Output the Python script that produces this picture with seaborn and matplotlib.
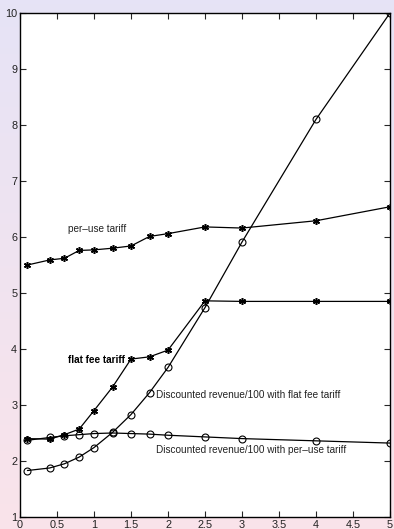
import numpy as np
import pandas as pd
import matplotlib
matplotlib.use("Agg")
import matplotlib.pyplot as plt
import seaborn as sns

# =========================
# DATA
# =========================

x_vals = [0.1, 0.4, 0.6, 0.8, 1.0, 1.25, 1.5, 1.75, 2.0, 2.5, 3.0, 4.0, 5.0]

per_use_tariff = [5.50, 5.59, 5.62, 5.76, 5.77, 5.80, 5.84, 6.01, 6.06, 6.18, 6.16, 6.29, 6.54]
flat_fee_tariff = [2.40, 2.39, 2.47, 2.57, 2.90, 3.32, 3.82, 3.86, 3.98, 4.86, 4.85, 4.85, 4.85]
disc_flat_fee = [1.83, 1.875, 1.95, 2.07, 2.24, 2.51, 2.83, 3.22, 3.67, 4.74, 5.91, 8.10, 10.0]
disc_per_use = [2.37, 2.42, 2.45, 2.47, 2.49, 2.50, 2.49, 2.48, 2.46, 2.43, 2.40, 2.36, 2.32]

x_ticks = [0, 0.5, 1, 1.5, 2, 2.5, 3, 3.5, 4, 4.5, 5]
x_tick_labels = ["0", "0.5", "1", "1.5", "2", "2.5", "3", "3.5", "4", "4.5", "5"]
y_ticks = [1, 2, 3, 4, 5, 6, 7, 8, 9, 10]

df = pd.DataFrame({
    "x": x_vals,
    "per_use": per_use_tariff,
    "flat_fee": flat_fee_tariff,
    "disc_flat": disc_flat_fee,
    "disc_per_use": disc_per_use,
})

# =========================
# FIGURE
# =========================

sns.set_style("white")
plt.rcParams['font.family'] = ['Liberation Sans', 'DejaVu Sans']

fig = plt.figure(figsize=(3.94, 5.29), dpi=100)

# background gradient (lavender top -> pink bottom)
bg = fig.add_axes([0, 0, 1, 1], zorder=-10)
top_col = np.array([0.902, 0.894, 0.965])
bot_col = np.array([0.980, 0.894, 0.918])
t = np.linspace(0, 1, 256)[:, None]
grad = (1 - t) * top_col + t * bot_col
bg.imshow(grad[:, None, :], aspect="auto", extent=[0, 1, 0, 1])
bg.axis("off")

ax = fig.add_axes([0.0508, 0.0227, 0.9390, 0.9527])
ax.set_facecolor("white")

asterisk = (6, 2, 0)

sns.lineplot(data=df, x="x", y="per_use", ax=ax, color="black", linewidth=0.9,
             marker=asterisk, markersize=5, markeredgewidth=1.1, markeredgecolor="black")
sns.lineplot(data=df, x="x", y="flat_fee", ax=ax, color="black", linewidth=0.9,
             marker=asterisk, markersize=5, markeredgewidth=1.1, markeredgecolor="black")
sns.lineplot(data=df, x="x", y="disc_flat", ax=ax, color="black", linewidth=0.9,
             marker="o", markersize=5, markerfacecolor="none", markeredgewidth=0.8,
             markeredgecolor="black")
sns.lineplot(data=df, x="x", y="disc_per_use", ax=ax, color="black", linewidth=0.9,
             marker="o", markersize=5, markerfacecolor="none", markeredgewidth=0.8,
             markeredgecolor="black")

# =========================
# LABELS
# =========================

ax.text(0.65, 6.15, "per\u2013use tariff", fontsize=7.2, color="#222222", va="center")
ax.text(0.65, 3.80, "flat fee tariff", fontsize=7.2, color="black", va="center",
        fontweight="bold")
ax.text(1.84, 3.18, "Discounted revenue/100 with flat fee tariff", fontsize=7.2,
        color="#222222", va="center")
ax.text(1.84, 2.20, "Discounted revenue/100 with per\u2013use tariff", fontsize=7.2,
        color="#222222", va="center")

# =========================
# AXES
# =========================

ax.set_xlim(0, 5)
ax.set_ylim(1, 10)
ax.set_xticks(x_ticks)
ax.set_xticklabels(x_tick_labels)
ax.set_yticks(y_ticks)
ax.set_xlabel("")
ax.set_ylabel("")
ax.tick_params(direction="in", length=4, width=0.8, labelsize=7.8,
               labelcolor="#222222", top=True, right=True, bottom=True, left=True,
               pad=2)

for side in ax.spines.values():
    side.set_visible(True)
    side.set_color("black")
    side.set_linewidth(1.0)

plt.savefig("out.png", dpi=100)
